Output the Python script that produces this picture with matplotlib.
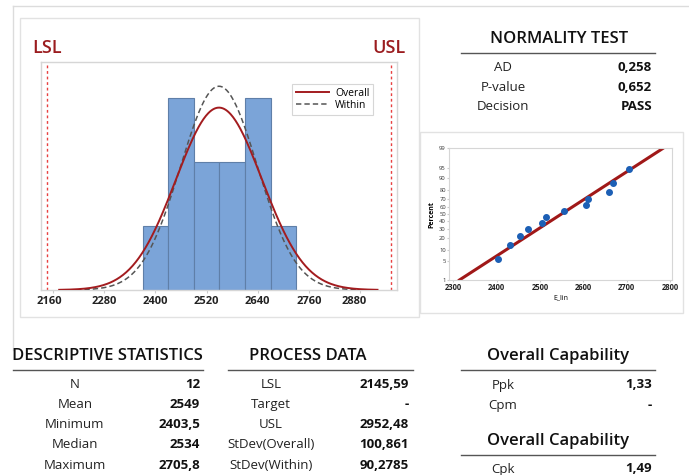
import matplotlib
matplotlib.use("Agg")
import matplotlib.pyplot as plt
import matplotlib.transforms as mtransforms
import numpy as np
from statistics import NormalDist
from matplotlib.patches import Rectangle
from matplotlib.lines import Line2D

# ---------------- data ----------------
data = [2403.5, 2432.0, 2454.5, 2473.0, 2504.5, 2513.0, 2555.0, 2606.0,
        2611.0, 2660.0, 2668.0, 2705.8]
plot_pct = [5.6, 13.7, 21.8, 29.8, 37.9, 46.0, 54.0, 62.1, 70.2, 78.2, 86.3, 94.4]
bin_edges = [2370, 2430, 2490, 2550, 2610, 2670, 2730]
mean_val = 2549.0
sd_overall = 100.861
sd_within = 90.2785
lsl = 2145.59
usl = 2952.48
hist_ticks = [2160, 2280, 2400, 2520, 2640, 2760, 2880]
prob_xticks = [2300, 2400, 2500, 2600, 2700, 2800]
prob_yticks = [1, 5, 10, 20, 30, 40, 50, 60, 70, 80, 90, 95, 99]

normality_labels = ["AD", "P-value", "Decision"]
normality_values = ["0,258", "0,652", "PASS"]
desc_labels = ["N", "Mean", "Minimum", "Median", "Maximum"]
desc_values = ["12", "2549", "2403,5", "2534", "2705,8"]
proc_labels = ["LSL", "Target", "USL", "StDev(Overall)", "StDev(Within)"]
proc_values = ["2145,59", "-", "2952,48", "100,861", "90,2785"]
cap1_labels = ["Ppk", "Cpm"]
cap1_values = ["1,33", "-"]
cap2_labels = ["Cpk"]
cap2_values = ["1,49"]

# ---------------- figure ----------------
W, H = 689, 475
plt.rcParams['font.family'] = ['Open Sans', 'DejaVu Sans']
fig = plt.figure(figsize=(W / 100, H / 100), dpi=100)
fig.patch.set_facecolor("white")

def fx(x):
    return x / W

def fy(y):
    return 1 - y / H

def axrect(l, t, r, b):
    return [fx(l), fy(b), (r - l) / W, (b - t) / H]

def frame(l, t, r, b, color="#dcdcdc", lw=1.0):
    fig.patches.append(Rectangle((fx(l), fy(b)), (r - l) / W, (b - t) / H,
                                 transform=fig.transFigure, fill=False,
                                 edgecolor=color, linewidth=lw))

def hline(x0, x1, y, color="#555555", lw=1.0):
    fig.lines.append(Line2D([fx(x0), fx(x1)], [fy(y), fy(y)],
                            transform=fig.transFigure, color=color, linewidth=lw))

# outer frames
fig.lines.append(Line2D([fx(13), fx(13)], [fy(6), fy(350)], transform=fig.transFigure,
                        color="#dcdcdc", linewidth=1.0))
fig.lines.append(Line2D([fx(13), fx(689)], [fy(6), fy(6)], transform=fig.transFigure,
                        color="#dcdcdc", linewidth=1.0))
frame(20, 18, 419, 317, color="#e2e2e2")
frame(420, 132, 683, 313, color="#e2e2e2")

# ---------------- histogram ----------------
ax = fig.add_axes(axrect(41, 62, 397, 290))
ax.hist(data, bins=bin_edges, color="#7ba4d8", edgecolor="#5f7fa8", linewidth=0.8, zorder=2)
xs = np.linspace(2174, 2921, 400)
binw = bin_edges[1] - bin_edges[0]
n = len(data)
y_over = n * binw * np.array([NormalDist(mean_val, sd_overall).pdf(v) for v in xs])
y_with = n * binw * np.array([NormalDist(mean_val, sd_within).pdf(v) for v in xs])
ax.plot(xs, y_over, color="#a31c1f", linewidth=1.4, label="Overall", zorder=4)
ax.plot(xs, y_with, color="#555555", linewidth=1.1, linestyle=(0, (3.5, 2)), label="Within", zorder=3)
ax.axvline(lsl, color="#e84040", linestyle=(0, (2, 2)), linewidth=1.0)
ax.axvline(usl, color="#e84040", linestyle=(0, (2, 2)), linewidth=1.0)
ax.set_xlim(2131.3, 2966.8)
ax.set_ylim(0, 3.56)
ax.set_yticks([])
ax.set_xticks(hist_ticks)
ax.set_xticklabels([str(t) for t in hist_ticks], fontsize=8, fontweight="bold", color="#222222")
ax.tick_params(axis="x", length=2, color="#cccccc", pad=2)
labs = ax.get_xticklabels()
labs[0].set_transform(labs[0].get_transform() + mtransforms.ScaledTranslation(-4 / 100, 0, fig.dpi_scale_trans))
labs[-1].set_transform(labs[-1].get_transform() + mtransforms.ScaledTranslation(-6 / 100, 0, fig.dpi_scale_trans))
for s in ax.spines.values():
    s.set_color("#d6d6d6")
    s.set_linewidth(1.0)
leg = ax.legend(loc="upper right", bbox_to_anchor=(0.948, 0.925), fontsize=7.5,
                handlelength=3.2, frameon=True, fancybox=False, borderpad=0.35,
                labelspacing=0.1, handletextpad=0.6)
leg.get_frame().set_edgecolor("#cccccc")
leg.get_frame().set_linewidth(0.8)

fig.text(fx(47), fy(48), "LSL", color="#9b1c1f", fontsize=13, fontweight="semibold",
         ha="center", va="center")
fig.text(fx(389), fy(48), "USL", color="#9b1c1f", fontsize=13, fontweight="semibold",
         ha="center", va="center")

# ---------------- probability plot ----------------
nd = NormalDist()
axp = fig.add_axes(axrect(449.3, 148.3, 672.3, 280))
zpts = [nd.inv_cdf(p / 100) for p in plot_pct]
zlim = nd.inv_cdf(0.99)
zline = np.array([-zlim, zlim])
axp.plot(mean_val + sd_overall * zline, zline, color="#a01818", linewidth=2.2, zorder=2)
axp.plot(data, zpts, "o", color="#1c5fb5", markersize=4, zorder=3)
axp.set_xlim(2291, 2805)
axp.set_ylim(-zlim, zlim)
axp.set_yticks([nd.inv_cdf(p / 100) for p in prob_yticks])
axp.set_yticklabels([str(p) for p in prob_yticks], fontsize=4.2, color="#333333")
axp.set_xticks(prob_xticks)
axp.set_xticklabels([str(t) for t in prob_xticks], fontsize=5.5, fontweight="bold", color="#222222")
axp.tick_params(length=1.5, color="#cccccc", pad=1)
axp.set_ylabel("Percent", fontsize=5, fontweight="bold", labelpad=3)
axp.set_xlabel("E_lin", fontsize=5, labelpad=1)
for s in axp.spines.values():
    s.set_color("#d6d6d6")
    s.set_linewidth(0.8)

# ---------------- tables ----------------
def table(header, hx, hy, lx0, lx1, labels, values, label_x, value_x, row_y0, step=20.3,
          hsize=12):
    fig.text(fx(hx), fy(hy), header, fontsize=hsize, fontweight="semibold",
             ha="center", va="center", color="#111111")
    hline(lx0, lx1, hy + 14, color="#555555", lw=1.0)
    for i, (lab, val) in enumerate(zip(labels, values)):
        y = row_y0 + i * step
        fig.text(fx(label_x), fy(y), lab, fontsize=9.5, ha="center", va="center", color="#222222")
        fig.text(fx(value_x), fy(y), val, fontsize=9.5, fontweight="bold", ha="right",
                 va="center", color="#111111")

table("NORMALITY TEST", 559, 39, 461, 655, normality_labels, normality_values,
      503, 652, 67.5, step=19.7)
table("DESCRIPTIVE STATISTICS", 107, 356, 13, 203, desc_labels, desc_values,
      75, 200, 384, step=20.3)
table("PROCESS DATA", 308, 356, 228, 413, proc_labels, proc_values,
      271, 409, 384, step=20.3)
table("Overall Capability", 558, 356, 461, 655, cap1_labels, cap1_values,
      503, 652, 385, step=20.3)
table("Overall Capability", 558, 441, 461, 655, cap2_labels, cap2_values,
      503, 652, 469, step=20.3)

fig.savefig("out.png", dpi=100, facecolor="white")
